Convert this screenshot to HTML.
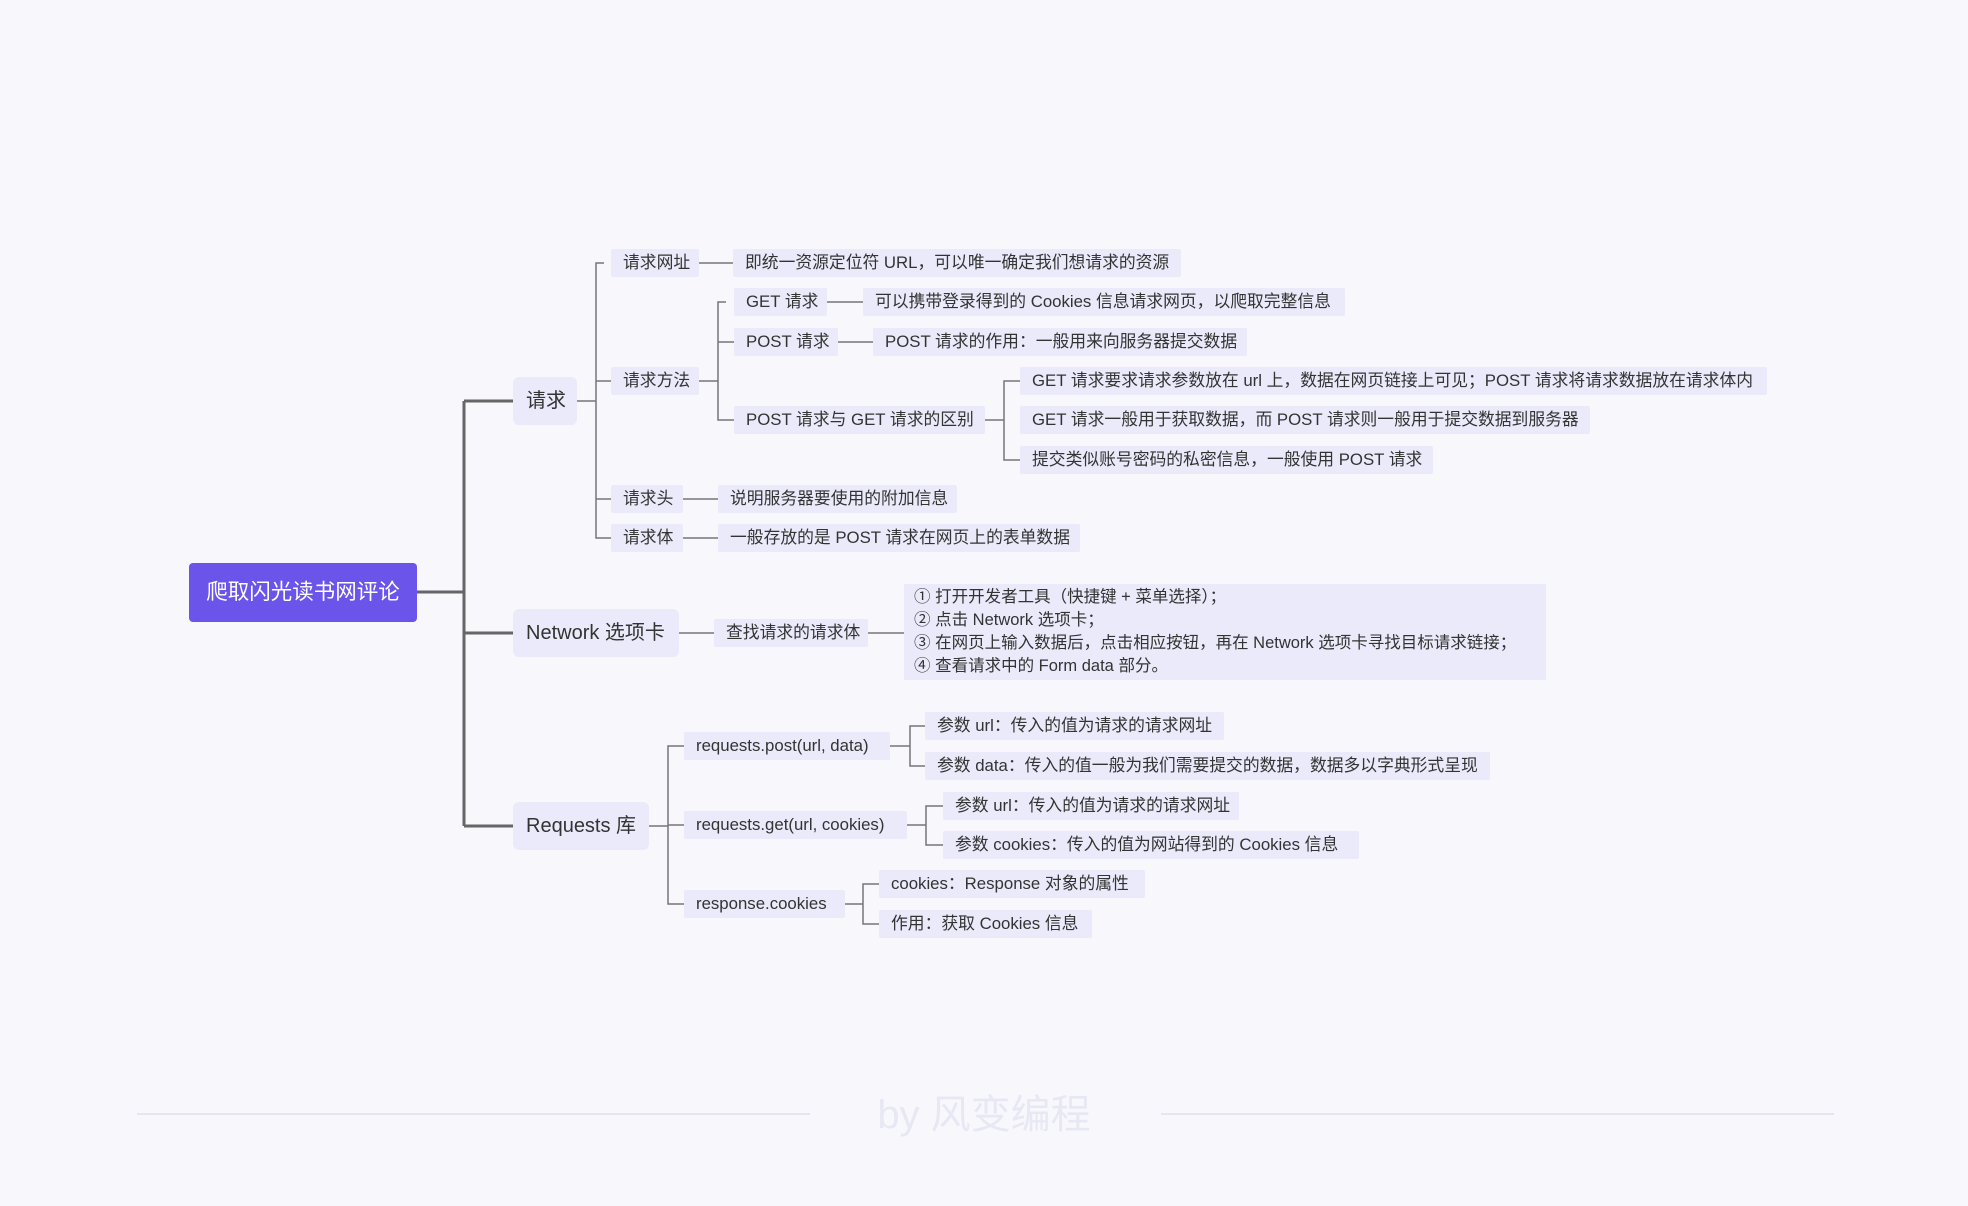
<!DOCTYPE html>
<html><head><meta charset="utf-8">
<style>
html,body{margin:0;padding:0;}
body{width:1968px;height:1204px;background:#f7f7fc;position:relative;overflow:hidden;font-family:"Liberation Sans","Noto Sans CJK SC",sans-serif;color:#333;}
#w{position:absolute;left:0;top:2px;width:1968px;height:1204px;}
.n{position:absolute;height:28px;line-height:28px;font-size:16.8px;background:#eaeafa;padding:0 0 0 12px;box-sizing:border-box;white-space:nowrap;border-radius:2px;}
.l1{position:absolute;height:48px;line-height:48px;font-size:20px;background:#eaeafa;padding-left:13px;box-sizing:border-box;border-radius:6px;white-space:nowrap;}
svg{position:absolute;left:0;top:0;}
</style></head><body><div id="w">
<svg width="1968" height="1204">
<g fill="none" stroke="#666" stroke-width="3">
<path d="M417 590 H464 M464 399 V824 M464 399 H513 M464 631 H513 M464 824 H513"/>
</g>
<g fill="none" stroke="#777" stroke-width="1.5">
<path d="M577 399 H596 M604 261 H596 V536 H604 M596 379 H611 M596 497 H611 M596 536 H611"/>
<path d="M699 261 H733"/>
<path d="M699 379 H718 M726 300 H718 V418 H726 M718 340 H734 M718 418 H734"/>
<path d="M827 300 H863 M838 340 H873"/>
<path d="M985 418 H1004 M1012 379 H1004 V458 H1012 M1004 379 H1020 M1004 458 H1020"/>
<path d="M683 497 H718 M683 536 H718"/>
<path d="M679 631 H714 M868 631 H904"/>
<path d="M649 824 H668 M676 744 H668 V902 H676 M668 744 H684 M668 823 H684 M668 902 H684"/>
<path d="M890 744 H910 M918 724 H910 V764 H918 M910 724 H925 M910 764 H925"/>
<path d="M907 823 H926 M934 804 H926 V843 H934 M926 804 H943 M926 843 H943"/>
<path d="M845 902 H863 M871 882 H863 V922 H871 M863 882 H879 M863 922 H879"/>
</g>
<g stroke="#e6e6f3" stroke-width="2"><path d="M137 1112 H810 M1161 1112 H1834"/></g>
<text x="984" y="1126" text-anchor="middle" font-size="40" fill="#e8e8f5" font-family="Liberation Sans, Noto Sans CJK SC, sans-serif">by 风变编程</text>
</svg>

<div style="position:absolute;left:189px;top:561px;width:228px;height:59px;background:#6a54ea;border-radius:4px;color:#fff;font-size:21.5px;line-height:59px;text-align:center;">爬取闪光读书网评论</div>

<div class="l1" style="left:513px;top:375px;width:64px;">请求</div>
<div class="l1" style="left:513px;top:607px;width:166px;">Network 选项卡</div>
<div class="l1" style="left:513px;top:800px;width:136px;">Requests 库</div>

<div class="n" style="left:611px;top:247px;width:88px;">请求网址</div>
<div class="n" style="left:611px;top:365px;width:88px;">请求方法</div>
<div class="n" style="left:611px;top:483px;width:72px;">请求头</div>
<div class="n" style="left:611px;top:522px;width:72px;">请求体</div>

<div class="n" style="left:733px;top:247px;width:448px;">即统一资源定位符 URL，可以唯一确定我们想请求的资源</div>
<div class="n" style="left:734px;top:286px;width:93px;">GET 请求</div>
<div class="n" style="left:863px;top:286px;width:482px;">可以携带登录得到的 Cookies 信息请求网页，以爬取完整信息</div>
<div class="n" style="left:734px;top:326px;width:104px;">POST 请求</div>
<div class="n" style="left:873px;top:326px;width:374px;">POST 请求的作用：一般用来向服务器提交数据</div>
<div class="n" style="left:734px;top:404px;width:251px;">POST 请求与 GET 请求的区别</div>
<div class="n" style="left:1020px;top:365px;width:747px;">GET 请求要求请求参数放在 url 上，数据在网页链接上可见；POST 请求将请求数据放在请求体内</div>
<div class="n" style="left:1020px;top:404px;width:570px;">GET 请求一般用于获取数据，而 POST 请求则一般用于提交数据到服务器</div>
<div class="n" style="left:1020px;top:444px;width:413px;">提交类似账号密码的私密信息，一般使用 POST 请求</div>
<div class="n" style="left:718px;top:483px;width:239px;">说明服务器要使用的附加信息</div>
<div class="n" style="left:718px;top:522px;width:362px;">一般存放的是 POST 请求在网页上的表单数据</div>

<div class="n" style="left:714px;top:617px;width:154px;">查找请求的请求体</div>
<div style="position:absolute;left:904px;top:582px;width:642px;height:96px;background:#eaeafa;font-size:16.5px;line-height:23px;padding:2px 0 0 10px;box-sizing:border-box;white-space:nowrap;">① 打开开发者工具（快捷键 + 菜单选择）；<br>② 点击 Network 选项卡；<br>③ 在网页上输入数据后，点击相应按钮，再在 Network 选项卡寻找目标请求链接；<br>④ 查看请求中的 Form data 部分。</div>

<div class="n" style="left:684px;top:730px;width:206px;">requests.post(url, data)</div>
<div class="n" style="left:925px;top:710px;width:299px;">参数 url：传入的值为请求的请求网址</div>
<div class="n" style="left:925px;top:750px;width:565px;">参数 data：传入的值一般为我们需要提交的数据，数据多以字典形式呈现</div>
<div class="n" style="left:684px;top:809px;width:223px;">requests.get(url, cookies)</div>
<div class="n" style="left:943px;top:790px;width:296px;">参数 url：传入的值为请求的请求网址</div>
<div class="n" style="left:943px;top:829px;width:416px;">参数 cookies：传入的值为网站得到的 Cookies 信息</div>
<div class="n" style="left:684px;top:888px;width:161px;">response.cookies</div>
<div class="n" style="left:879px;top:868px;width:266px;">cookies：Response 对象的属性</div>
<div class="n" style="left:879px;top:908px;width:213px;">作用：获取 Cookies 信息</div>
</div></body></html>
